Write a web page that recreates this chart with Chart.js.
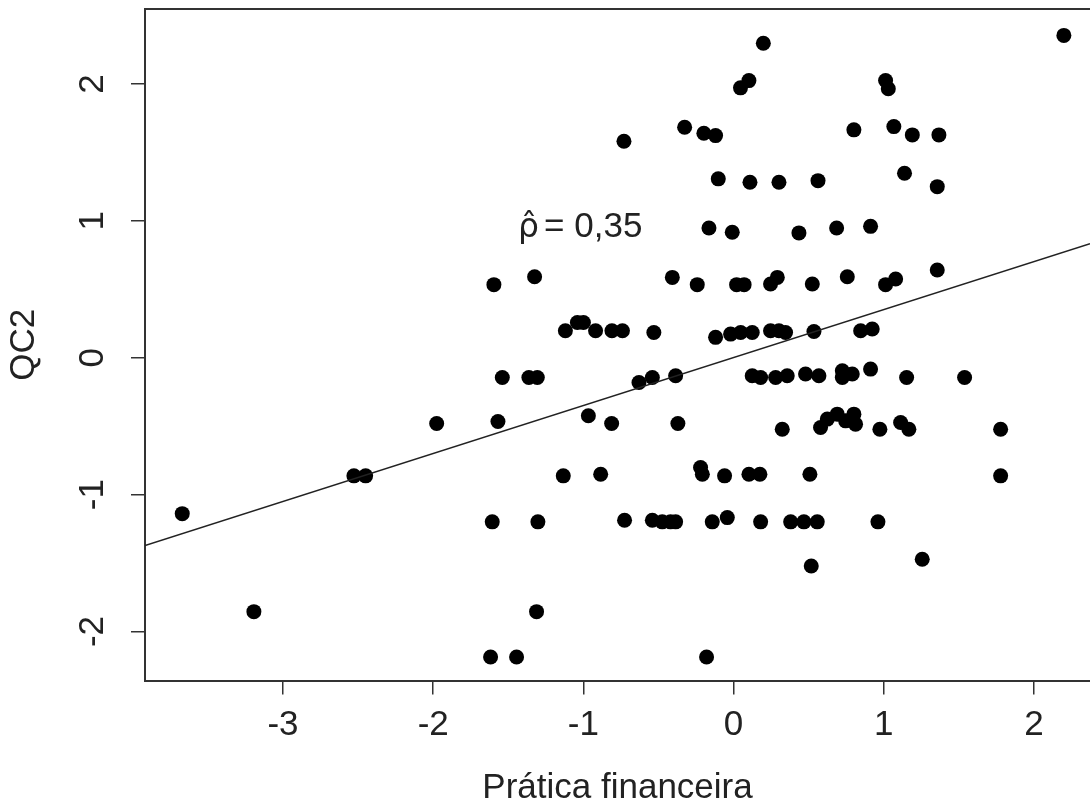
<!DOCTYPE html>
<html>
<head>
<meta charset="utf-8">
<script src="https://cdn.jsdelivr.net/npm/chart.js@4.4.1/dist/chart.umd.min.js"></script>
<style>
  html, body { margin: 0; padding: 0; background: #fff; }
  canvas { display: block; }
</style>
</head>
<body>
<canvas id="scatterChart" width="1090" height="800"></canvas>
<script>
// pontos (Prática financeira x QC2)
const praticaX = [
  0.198, 0.046, 0.102, 2.199, 1.012, 1.030,
  -0.730, -0.326, -0.198, -0.120, 0.801, 1.067, 1.190, 1.367,
  -0.102, 0.109, 0.302, 0.562, 1.138, 1.356,
  -0.164, -0.009, 0.435, 0.686, 0.912,
  -1.596, -1.325, -0.408, -0.242, 0.020, 0.070, 0.246, 0.291, 0.524, 0.757, 1.012, 1.079, 1.356,
  -1.120, -1.040, -1.000, -0.919, -0.810, -0.740, -0.531, -0.120, -0.020, 0.047, 0.124, 0.246, 0.302, 0.346, 0.535, 0.846, 0.923,
  -1.540, -1.363, -1.307, -0.630, -0.541, -0.386, 0.124, 0.180, 0.280, 0.357, 0.479, 0.568, 0.724, 0.724, 0.790, 0.912, 1.152, 1.538,
  -1.977, -1.569, -0.967, -0.812, -0.371, 0.324, 0.579, 0.624, 0.690, 0.746, 0.801, 0.812, 0.974, 1.112, 1.167, 1.778,
  -2.528, -2.450, -1.134, -0.885, -0.220, -0.208, -0.060, 0.102, 0.175, 0.508, 1.778,
  -3.671, -1.607, -1.303, -0.726, -0.541, -0.475, -0.420, -0.386, -0.142, -0.042, 0.180, 0.380, 0.468, 0.557, 0.961,
  0.517, 1.256, -3.194, -1.312, -1.618, -1.445, -0.180
];
const qc2Y = [
  2.298, 1.972, 2.025, 2.355, 2.026, 1.965,
  1.582, 1.684, 1.640, 1.623, 1.665, 1.689, 1.628, 1.628,
  1.307, 1.282, 1.282, 1.294, 1.348, 1.250,
  0.948, 0.917, 0.912, 0.948, 0.960,
  0.534, 0.592, 0.587, 0.534, 0.534, 0.534, 0.539, 0.587, 0.539, 0.592, 0.534, 0.575, 0.641,
  0.197, 0.258, 0.258, 0.197, 0.197, 0.197, 0.185, 0.149, 0.173, 0.185, 0.185, 0.197, 0.197, 0.185, 0.192, 0.197, 0.210,
  -0.144, -0.144, -0.144, -0.181, -0.144, -0.132, -0.132, -0.144, -0.144, -0.132, -0.119, -0.132, -0.095, -0.144, -0.119, -0.083, -0.144, -0.144,
  -0.480, -0.466, -0.424, -0.480, -0.480, -0.522, -0.510, -0.448, -0.412, -0.461, -0.412, -0.485, -0.522, -0.473, -0.522, -0.522,
  -0.863, -0.863, -0.863, -0.851, -0.802, -0.851, -0.863, -0.851, -0.851, -0.851, -0.863,
  -1.139, -1.199, -1.199, -1.187, -1.187, -1.199, -1.199, -1.199, -1.199, -1.168, -1.199, -1.199, -1.199, -1.199, -1.199,
  -1.521, -1.472, -1.855, -1.855, -2.186, -2.186, -2.186
];
const retaX = [-3.919, 2.373];
const retaY = [-1.372, 0.833];

const xTicks = [-3, -2, -1, 0, 1, 2];
const yTicks = [-2, -1, 0, 1, 2];
const rhoSymbol = "ρ̂";
const rhoValue = "= 0,35";

const FONT = "'Liberation Sans', Arial, sans-serif";
const INK = '#222';

// rótulos do eixo y girados (estilo R) + borda superior + texto do rho
const extras = {
    id: 'extras',
    afterDraw(chart) {
        const ctx = chart.ctx;
        const area = chart.chartArea;
        const ys = chart.scales.y;
        const xs = chart.scales.x;
        ctx.save();
        ctx.strokeStyle = '#333';
        ctx.lineWidth = 2;
        ctx.beginPath();
        ctx.moveTo(area.left - 1, area.top);
        ctx.lineTo(area.right, area.top);
        ctx.stroke();

        ctx.fillStyle = INK;
        ctx.font = '35px ' + FONT;
        ctx.textAlign = 'center';
        ctx.textBaseline = 'middle';
        yTicks.forEach(v => {
            ctx.save();
            ctx.translate(93, ys.getPixelForValue(v));
            ctx.rotate(-Math.PI / 2);
            ctx.fillText(String(v), 0, 0);
            ctx.restore();
        });

        // rho com chapéu: DejaVu posiciona bem o acento combinante
        const tx = xs.getPixelForValue(-1.435);
        const ty = ys.getPixelForValue(0.881);
        ctx.textAlign = 'left';
        ctx.textBaseline = 'alphabetic';
        ctx.font = '33px "DejaVu Sans"';
        ctx.fillText(rhoSymbol, tx, ty);
        ctx.font = '35px ' + FONT;
        ctx.fillText(rhoValue, tx + 26, ty);
        ctx.restore();
    }
};

let chart;
document.addEventListener('DOMContentLoaded', () => {
    const ctx = document.getElementById('scatterChart').getContext('2d');
    chart = new Chart(ctx, {
        data: {
            datasets: [{
                type: 'scatter',
                data: praticaX.map((x, i) => ({ x: x, y: qc2Y[i] })),
                backgroundColor: '#000',
                borderWidth: 0,
                pointRadius: 7.5,
                order: 2
            }, {
                type: 'line',
                data: retaX.map((x, i) => ({ x: x, y: retaY[i] })),
                borderColor: INK,
                borderWidth: 1.5,
                pointRadius: 0,
                fill: false,
                order: 1
            }]
        },
        options: {
            responsive: false,
            animation: false,
            layout: { autoPadding: false, padding: { left: 0, right: 0, top: 9, bottom: 0 } },
            plugins: {
                legend: { display: false },
                tooltip: { enabled: false }
            },
            scales: {
                x: {
                    type: 'linear',
                    min: -3.919,
                    max: 2.373,
                    afterBuildTicks: s => { s.ticks = xTicks.map(v => ({ value: v })); },
                    grid: { drawOnChartArea: false, drawTicks: true, tickLength: 14, color: '#333', lineWidth: 1.5 },
                    border: { display: true, color: '#333', width: 2 },
                    ticks: {
                        padding: 9.5,
                        color: INK,
                        font: { family: FONT, size: 35, lineHeight: 1.2 }
                    },
                    title: {
                        display: true,
                        text: 'Prática financeira',
                        color: INK,
                        font: { family: FONT, size: 35, lineHeight: 0.5 },
                        padding: { top: 23.75, bottom: 3.25 }
                    }
                },
                y: {
                    type: 'linear',
                    min: -2.358,
                    max: 2.548,
                    afterBuildTicks: s => { s.ticks = yTicks.map(v => ({ value: v })); },
                    grid: { drawOnChartArea: false, drawTicks: true, tickLength: 14, color: '#333', lineWidth: 1.5 },
                    border: { display: true, color: '#333', width: 2 },
                    ticks: { display: false },
                    title: {
                        display: true,
                        text: 'QC2',
                        color: INK,
                        font: { family: FONT, size: 35, lineHeight: 1 },
                        padding: { top: 6.5, bottom: 89.5 }
                    }
                }
            }
        },
        plugins: [extras]
    });
});
</script>
</body>
</html>
